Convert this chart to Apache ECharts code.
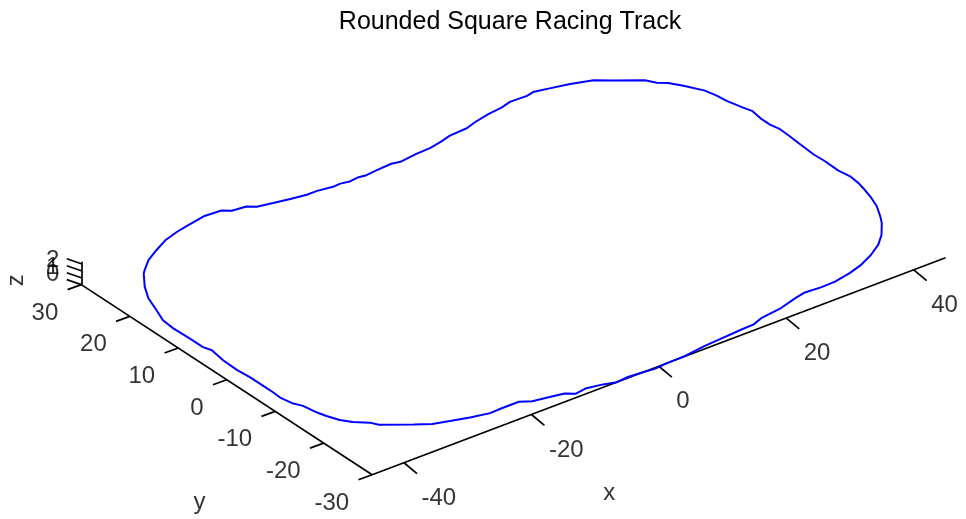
<!DOCTYPE html>
<html>
<head>
<meta charset="utf-8">
<script src="https://cdn.jsdelivr.net/npm/echarts@6/dist/echarts.min.js"></script>
<style>
  html, body { margin: 0; padding: 0; background: #ffffff; }
  #chart { width: 966px; height: 519px; }
</style>
</head>
<body>
<div id="chart"></div>
<script>
// ---- chart text ----
const titleText = 'Rounded Square Racing Track';
const axisNames = ['x', 'y', 'z'];

// ---- track centreline (world units, drawn on the z = 0 plane) ----
const trackX = [
  -37.1, -36.5, -34.6, -32.3, -29.9, -27.5, -25.3, -22.3, -19.8, -18.8,
  -16.7, -15.7, -13.5, -11.2, -8.9, -7.3, -5.1, -3.9, -2.6, -1.1,
  0.0, 1.7, 4.2, 5.4, 8.2, 10.5, 12.6, 14.3, 17.1, 18.9,
  21.4, 23.7, 25.4, 28.0, 29.2, 31.4, 34.1, 37.0, 38.9, 42.1,
  42.9, 44.0, 45.1, 46.5, 46.9, 47.1, 47.7, 48.1, 47.8, 47.8,
  48.1, 48.0, 47.8, 47.6, 47.7, 47.6, 47.9, 47.7, 47.3, 46.7,
  46.0, 44.8, 43.9, 42.1, 40.3, 38.0, 35.6, 33.2, 30.4, 28.1,
  25.6, 24.0, 21.0, 17.6, 15.8, 14.0, 10.2, 7.6, 4.2, 1.2,
  -0.8, -2.5, -4.7, -6.6, -8.3, -10.7, -12.4, -13.5, -15.8, -17.9,
  -19.3, -22.0, -23.9, -26.4, -28.9, -31.3, -33.2, -36.7, -37.3, -38.9,
  -39.9, -40.6, -41.0, -41.4, -42.0, -42.4, -42.3, -42.3, -42.3, -42.5,
  -42.4, -42.0, -42.4, -42.4, -42.5, -42.3, -41.4, -40.4, -39.0
];
const trackY = [
  27.5, 28.1, 29.8, 31.2, 32.5, 33.3, 33.8, 34.4, 34.2, 33.4,
  33.1, 32.3, 31.8, 31.3, 30.9, 30.9, 30.5, 30.6, 30.3, 30.5,
  30.3, 30.5, 30.7, 30.4, 30.8, 30.9, 31.4, 31.9, 32.1, 32.7,
  33.3, 33.6, 34.1, 34.0, 34.3, 33.8, 33.1, 32.1, 30.6, 28.2,
  26.8, 25.9, 24.2, 21.6, 19.7, 17.9, 15.3, 14.0, 11.6, 9.9,
  8.2, 6.3, 3.6, 0.6, -1.6, -4.4, -6.5, -8.5, -10.3, -12.5,
  -14.5, -16.8, -18.3, -20.6, -22.3, -23.8, -25.0, -25.8, -26.4, -26.5,
  -26.3, -26.7, -27.6, -28.1, -28.8, -28.9, -29.2, -29.4, -29.9, -30.0,
  -30.2, -30.0, -29.8, -30.0, -29.4, -28.9, -29.2, -28.3, -27.8, -27.4,
  -26.5, -26.5, -26.6, -26.0, -25.2, -24.4, -23.1, -20.5, -19.4, -18.0,
  -16.6, -14.8, -13.4, -11.0, -9.8, -7.6, -6.0, -4.0, -1.3, 1.2,
  4.1, 7.0, 8.3, 11.0, 14.3, 16.7, 19.2, 22.2, 24.8
];

// ---- axis box and ticks ----
const xRange = [-45, 45];
const yRange = [-30, 30];
const zRange = [0, 3.3];
const xTicks = [-40, -20, 0, 20, 40];
const yTicks = [-30, -20, -10, 0, 10, 20, 30];
const zTicks = [0, 1, 2, 3];
const zLabelTicks = [0, 1, 2];

// ---- orthographic camera ----
const W = 966, H = 519;
const view = { scale: 8.006, azimuth: 52.73, elevation: 29.83, cx: 513.4, cy: 271.2 };
const FONT = "'Liberation Sans', Arial, Helvetica, sans-serif";

function project(x, y, z) {
  const a = view.azimuth * Math.PI / 180;
  const e = view.elevation * Math.PI / 180;
  const s = view.scale;
  const px = view.cx + s * (x * Math.sin(a) - y * Math.cos(a));
  const py = view.cy - s * ((x * Math.cos(a) + y * Math.sin(a)) * Math.sin(e) + z * Math.cos(e));
  return [px, py];
}
function shift(p, dx, dy) { return [p[0] + dx, p[1] + dy]; }

// screen-space tick directions
const xTickVec = [13, 10.8], yTickVec = [-13.7, 5.0], zTickVec = [-14.5, -5];

const segments = [];
// axis lines along the front/left edges of the box
segments.push({ coords: [project(xRange[0], yRange[0], zRange[0]), project(xRange[1], yRange[0], zRange[0])] });
segments.push({ coords: [project(xRange[0], yRange[0], zRange[0]), project(xRange[0], yRange[1], zRange[0])] });
segments.push({ coords: [project(xRange[0], yRange[1], zRange[0]), project(xRange[0], yRange[1], zRange[1])] });

const texts = [];
xTicks.forEach(v => {
  const b = project(v, yRange[0], zRange[0]);
  segments.push({ coords: [b, shift(b, xTickVec[0], xTickVec[1])] });
  texts.push({ value: shift(b, 18, 36), name: String(v), label: { align: 'left' } });
});
yTicks.forEach(v => {
  const b = project(xRange[0], v, zRange[0]);
  segments.push({ coords: [b, shift(b, yTickVec[0], yTickVec[1])] });
  texts.push({ value: shift(b, -22.5, 28.8), name: String(v), label: { align: 'right' } });
});
zTicks.forEach(v => {
  const b = project(xRange[0], yRange[1], v);
  segments.push({ coords: [b, shift(b, zTickVec[0], zTickVec[1])] });
});
zLabelTicks.forEach(v => {
  const b = project(xRange[0], yRange[1], v);
  texts.push({ value: shift(b, -21.5, -10), name: String(v), label: { align: 'right' } });
});

// axis titles
const xMid = project(0, yRange[0], zRange[0]);
const yMid = project(xRange[0], 0, zRange[0]);
const zBase = project(xRange[0], yRange[1], zRange[0]);
texts.push({ value: shift(xMid, -49, 128), name: axisNames[0], label: { align: 'center' } });
texts.push({ value: shift(yMid, -26.8, 123), name: axisNames[1], label: { align: 'center' } });
texts.push({ value: shift(zBase, -64, -4), name: axisNames[2], label: { align: 'center', rotate: 90 } });

const trackPts = trackX.map((x, i) => project(x, trackY[i], 0));
trackPts.push(trackPts[0]);

const chart = echarts.init(document.getElementById('chart'), null, { renderer: 'canvas', width: W, height: H });
chart.setOption({
  backgroundColor: '#ffffff',
  animation: false,
  title: {
    text: titleText,
    left: 510,
    top: 10,
    padding: 0,
    textAlign: 'center',
    textStyle: { fontFamily: FONT, fontSize: 25, fontWeight: 'normal', color: '#000000' }
  },
  grid: { left: 0, right: 0, top: 0, bottom: 0 },
  xAxis: { type: 'value', min: 0, max: W, show: false },
  yAxis: { type: 'value', min: 0, max: H, inverse: true, show: false },
  series: [
    {
      type: 'lines',
      coordinateSystem: 'cartesian2d',
      silent: true,
      data: segments,
      lineStyle: { color: '#000000', width: 1.7, opacity: 1, curveness: 0 },
      z: 2
    },
    {
      type: 'line',
      data: trackPts,
      showSymbol: false,
      silent: true,
      lineStyle: { color: '#0000ff', width: 2 },
      z: 3
    },
    {
      type: 'scatter',
      data: texts,
      symbolSize: 1,
      silent: true,
      itemStyle: { color: 'rgba(0,0,0,0)' },
      label: {
        show: true,
        formatter: '{b}',
        position: [0, 0],
        verticalAlign: 'middle',
        fontFamily: FONT,
        fontSize: 24,
        color: '#000000'
      },
      z: 4
    }
  ]
});
</script>
</body>
</html>
